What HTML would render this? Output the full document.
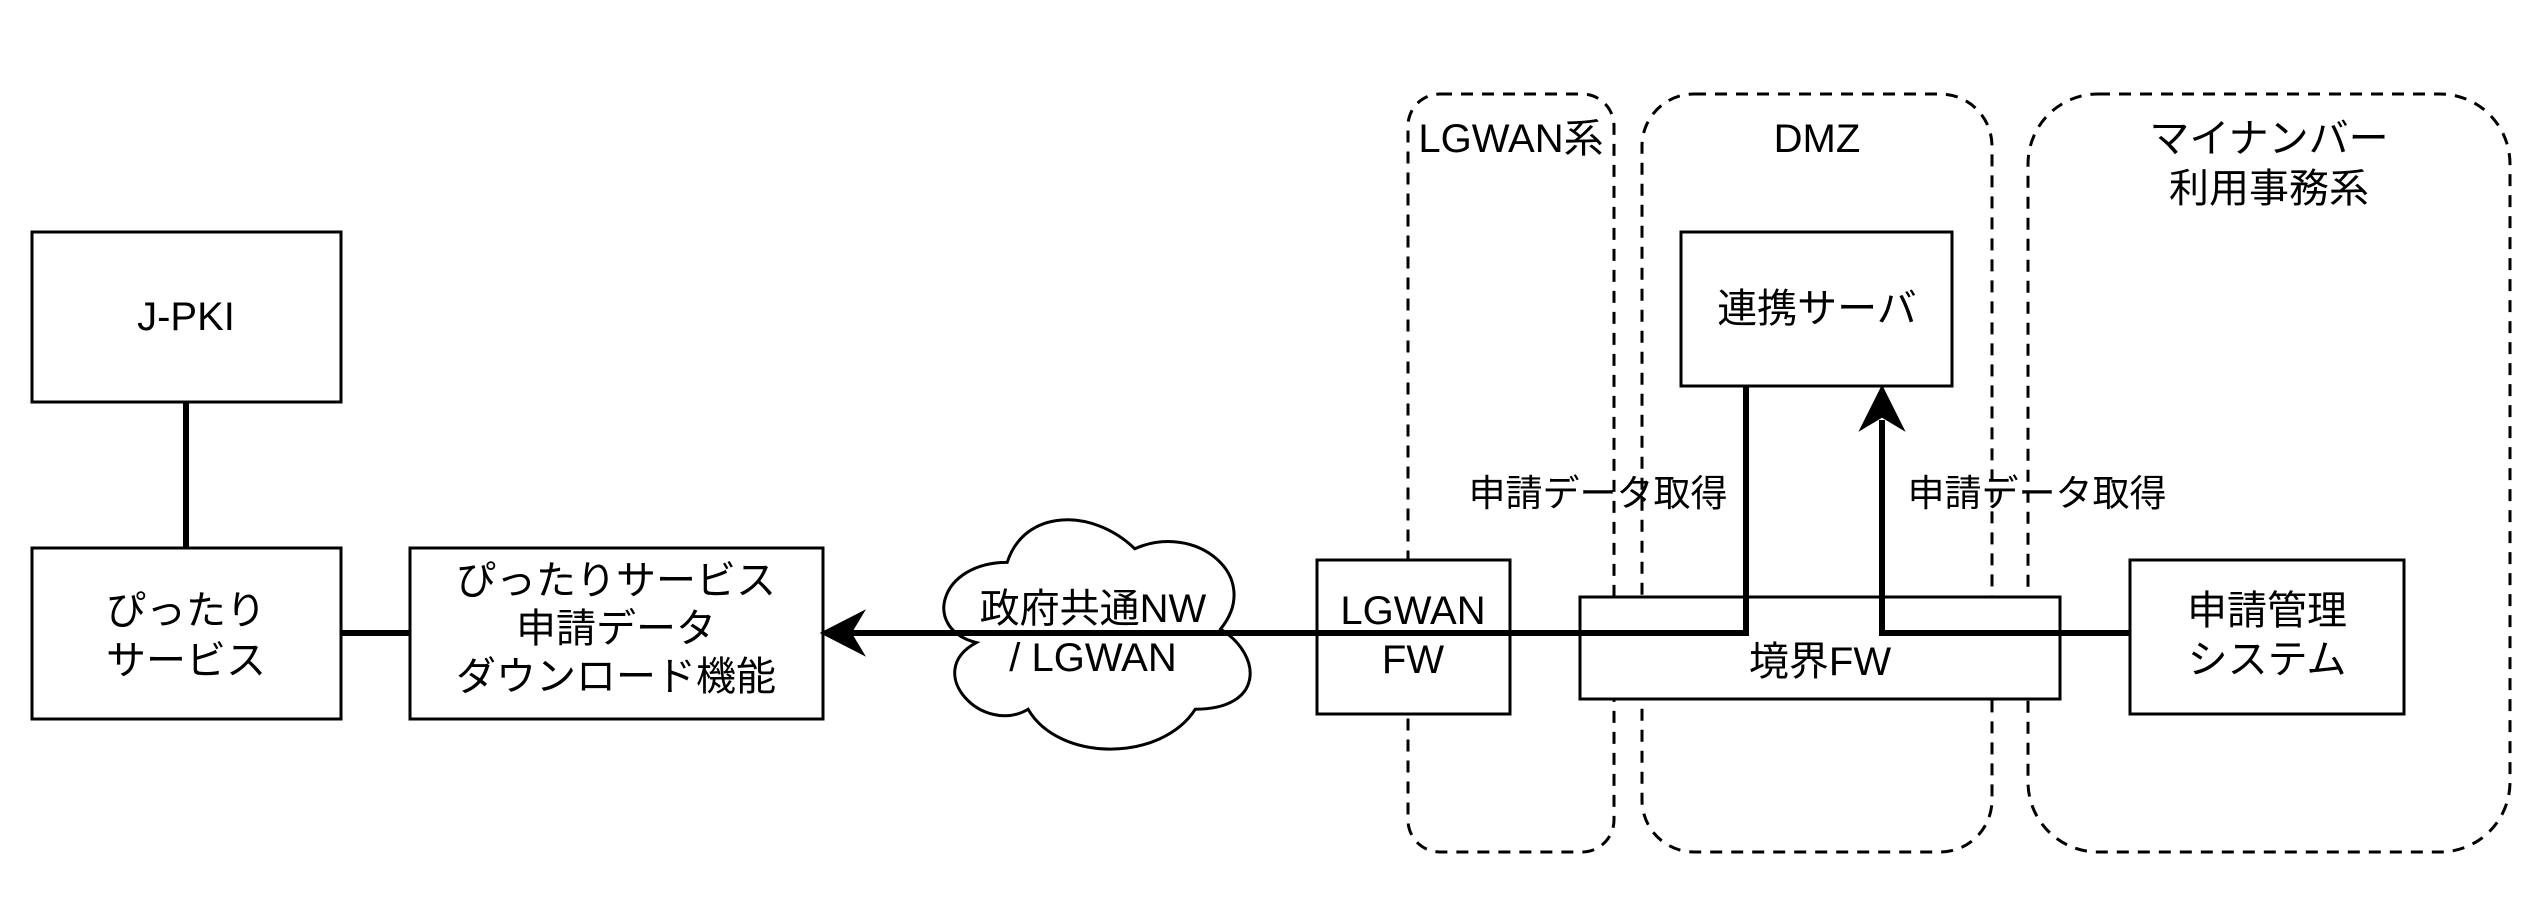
<!DOCTYPE html>
<html><head><meta charset="utf-8"><style>
html,body{margin:0;padding:0;background:#fff;}
svg{display:block;}
text{font-family:"Liberation Sans","Noto Sans CJK JP",sans-serif;font-size:40px;fill:#000;text-anchor:middle;}
</style></head><body>
<svg width="2544" height="904" viewBox="0 0 2544 904" xmlns="http://www.w3.org/2000/svg">
<!-- groups -->
<g fill="none" stroke="#000" stroke-width="3" stroke-dasharray="12,9">
<rect x="1408" y="94" width="206" height="758" rx="32"/>
<rect x="1642" y="94" width="350" height="758" rx="52"/>
<rect x="2028" y="94" width="482" height="758" rx="70"/>
</g>
<text x="1511" y="152">LGWAN系</text>
<text x="1817" y="152">DMZ</text>
<text x="2269" y="152">マイナンバー</text>
<text x="2269" y="202">利用事務系</text>

<!-- boxes -->
<g fill="#fff" stroke="#000" stroke-width="3">
<rect x="32" y="232" width="309" height="170"/>
<rect x="32" y="548" width="309" height="171"/>
<rect x="410" y="548" width="413" height="171"/>
<rect x="1681" y="232" width="271" height="154"/>
<rect x="1317" y="560" width="193" height="154"/>
<rect x="1580" y="597" width="480" height="102"/>
<rect x="2130" y="560" width="274" height="154"/>
<path transform="translate(1093,629) scale(1.1,1.13) translate(-1093,-629)" vector-effect="non-scaling-stroke" d="M1015,570 C953,570 937,629 987,641 C937,667 993,724 1034,700 C1062,747 1155,747 1186,700 C1248,700 1248,653 1209,629 C1248,582 1186,534 1131,558 C1093,522 1031,522 1015,570 Z"/>
</g>

<!-- connectors -->
<g fill="none" stroke="#000" stroke-width="6">
<line x1="186" y1="402" x2="186" y2="548"/>
<line x1="341" y1="633" x2="410" y2="633"/>
<polyline points="1746,386 1746,633 850,633"/>
<polyline points="2130,633 1882,633 1882,420"/>
</g>
<path d="M823,633 L862,613 L850,633 L862,653 Z" fill="#000" stroke="#000" stroke-width="3"/>
<path d="M1882,388 L1862,428 L1882,416 L1902,428 Z" fill="#000" stroke="#000" stroke-width="3"/>

<!-- labels -->
<text x="186" y="330">J-PKI</text>
<text x="186" y="624">ぴったり</text>
<text x="186" y="674">サービス</text>
<text x="616" y="594">ぴったりサービス</text>
<text x="616" y="642">申請データ</text>
<text x="616" y="690">ダウンロード機能</text>
<text x="1093" y="622">政府共通NW</text>
<text x="1093" y="671">/ LGWAN</text>
<text x="1413" y="624">LGWAN</text>
<text x="1413" y="673">FW</text>
<text x="1817" y="322">連携サーバ</text>
<text x="1820" y="675">境界FW</text>
<text x="2267" y="624">申請管理</text>
<text x="2267" y="673">システム</text>
<text x="1598" y="506" style="font-size:37px">申請データ取得</text>
<text x="2037" y="506" style="font-size:37px">申請データ取得</text>
</svg>
</body></html>
